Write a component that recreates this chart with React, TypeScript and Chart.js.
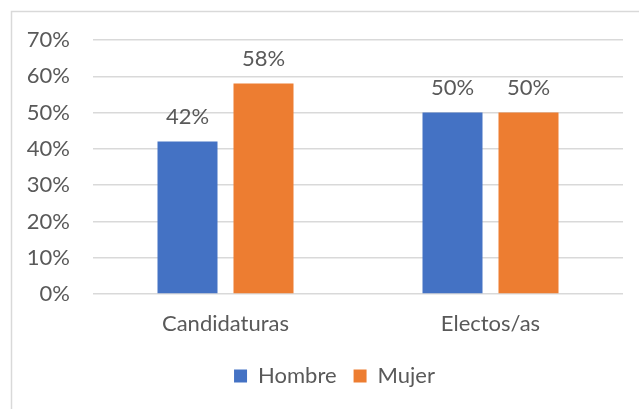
import React, { useEffect, useRef } from "react";
import { Chart, registerables } from "chart.js";

Chart.register(...registerables);

const categories = ["Candidaturas", "Electos/as"];
const hombre = [42, 50];
const mujer = [58, 50];
const yTicksMax = 70;
const yStep = 10;

const FONT = "Lato";
const TEXT = "#595959";
const FS = 22;

export default function App() {
  const ref = useRef<HTMLCanvasElement>(null);
  useEffect(() => {
    document.body.style.margin = "0";
    const canvas = ref.current!;
    const bgPlugin = {
      id: "bg",
      beforeDraw(chart: any) {
        const c = chart.ctx;
        c.save();
        c.fillStyle = "#ffffff";
        c.fillRect(0, 0, chart.width, chart.height);
        c.strokeStyle = "#D9D9D9";
        c.lineWidth = 1.5;
        c.strokeRect(11.5, 11.5, 700, 500);
        c.restore();
      },
    };
    const legendShift = {
      id: "legendShift",
      afterLayout(chart: any) {
        if (chart.legend) chart.legend.left += 46;
      },
    };
    const labelPlugin = {
      id: "dl",
      afterDatasetsDraw(chart: any) {
        const c = chart.ctx;
        c.save();
        c.font = `${FS}px ${FONT}`;
        c.fillStyle = TEXT;
        c.textAlign = "center";
        c.textBaseline = "bottom";
        chart.data.datasets.forEach((ds: any, i: number) => {
          const meta = chart.getDatasetMeta(i);
          meta.data.forEach((bar: any, j: number) => {
            c.fillText(ds.data[j] + "%", bar.x, bar.y - 14);
          });
        });
        c.restore();
      },
    };
    const chart = new Chart(canvas, {
      type: "bar",
      data: {
        labels: categories,
        datasets: [
          { label: "Hombre", data: hombre, backgroundColor: "#4472C4" },
          { label: "Mujer", data: mujer, backgroundColor: "#ED7D31" },
        ],
      },
      options: {
        responsive: false,
        animation: false,
        devicePixelRatio: 1,
        layout: { padding: { left: 0, right: 16, top: 40, bottom: 12 } },
        datasets: { bar: { categoryPercentage: 0.5736, barPercentage: 0.7895 } },
        plugins: {
          legend: {
            position: "bottom",
            labels: {
              boxWidth: 13,
              boxHeight: 13,
              padding: 17,
              color: TEXT,
              font: { family: FONT, size: FS },
            },
          },
          tooltip: { enabled: false },
        },
        scales: {
          x: {
            grid: { display: false },
            border: { display: false },
            ticks: { color: TEXT, font: { family: FONT, size: FS }, padding: 9 },
            afterFit: (s: any) => {
              s.height = 54;
            },
          },
          y: {
            min: 0,
            max: yTicksMax,
            grid: { color: "#D9D9D9", lineWidth: 1.5, drawTicks: false },
            border: { display: false },
            ticks: {
              stepSize: yStep,
              color: TEXT,
              font: { family: FONT, size: FS },
              padding: 23,
              callback: (v: any) => v + "%",
            },
            afterFit: (s: any) => {
              s.width = 93;
            },
          },
        },
      },
      plugins: [bgPlugin, legendShift, labelPlugin],
    });
    return () => chart.destroy();
  }, []);
  return (
    <div style={{ width: 639, height: 409 }}>
      <canvas ref={ref} width={639} height={409} style={{ width: 639, height: 409, display: "block" }} />
    </div>
  );
}
